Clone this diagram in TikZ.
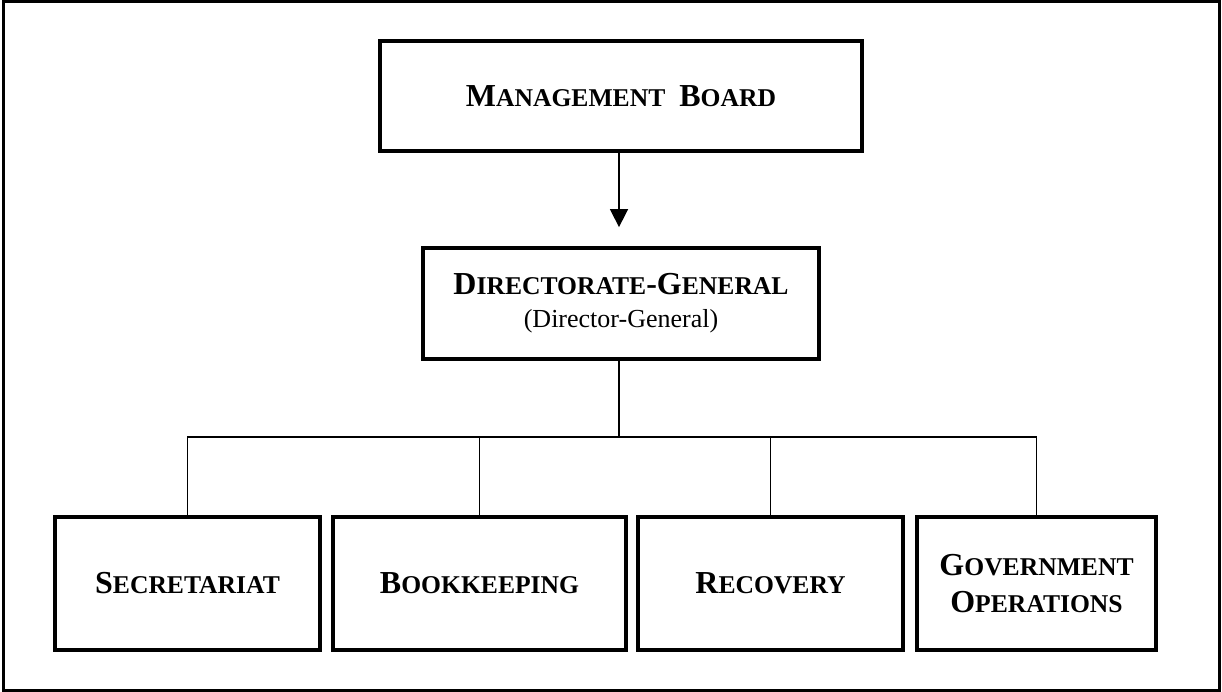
\documentclass[tikz,border=0pt]{standalone}
\usepackage{fontspec}
\setmainfont{Liberation Serif}
\usetikzlibrary{arrows.meta}
\newcommand\smc[1]{{\fontsize{25.6}{30}\selectfont #1}}
\begin{document}
\begin{tikzpicture}[x=1pt,y=-1pt,
  box/.style={draw, line width=3.8pt, inner sep=0pt, align=center,
    font=\fontsize{32}{37}\selectfont\bfseries},
  conn/.style={draw, line width=1.6pt}]
\useasboundingbox (0,0) rectangle (1222,692);
\draw[line width=3pt] (3,2) rectangle (1219,690);

\node[box, minimum width=482pt, minimum height=110pt] (MB) at (621,96)
  {M\smc{ANAGEMENT}\hspace{14pt}B\smc{OARD}};
\node[box, minimum width=396pt, minimum height=111pt] (DG) at (621,303.5)
  {D\smc{IRECTORATE}-G\smc{ENERAL}\\[-4pt]{\fontsize{26}{30}\selectfont\mdseries (Director-General)}};

\node[box, minimum width=265pt, minimum height=133pt] (S) at (187.5,583.5)
  {S\smc{ECRETARIAT}};
\node[box, minimum width=293pt, minimum height=133pt] (B) at (479.5,583.5)
  {B\smc{OOKKEEPING}};
\node[box, minimum width=265pt, minimum height=133pt] (R) at (770.5,583.5)
  {R\smc{ECOVERY}};
\node[box, minimum width=239pt, minimum height=133pt] (G) at (1036.5,583.5)
  {G\smc{OVERNMENT}\\O\smc{PERATIONS}};

\coordinate (bus) at (619,437);
\draw[line width=1.6pt, -{Triangle[length=18pt,width=18pt]}, shorten >=19pt]
  (MB.south -| bus) -- (DG.north -| bus);
\draw[conn] (DG.south -| bus) -- (bus);
\draw[conn] (S.north) -- (S.north |- bus) -- (G.north |- bus) -- (G.north);
\draw[conn] (B.north) -- (B.north |- bus);
\draw[conn] (R.north) -- (R.north |- bus);
\end{tikzpicture}
\end{document}
